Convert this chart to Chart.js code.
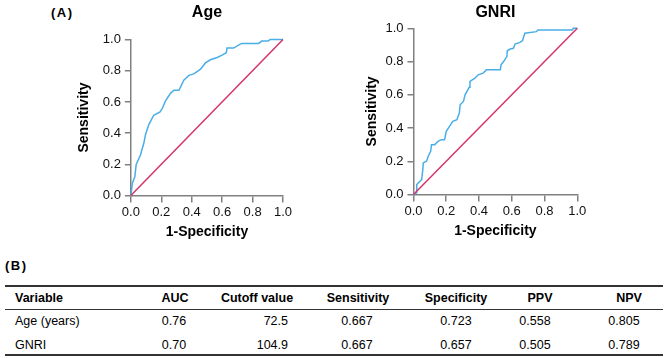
<!DOCTYPE html>
<html>
<head>
<meta charset="utf-8">
<script src="https://cdn.jsdelivr.net/npm/chart.js@4.4.1/dist/chart.umd.min.js"></script>
<style>
  body { margin: 0; background: #fff; width: 669px; height: 358px; overflow: hidden; position: relative;
         font-family: "Liberation Sans", Arial, sans-serif; color: #000; }
  canvas { position: absolute; }
  .lbl { position: absolute; font-weight: bold; font-size: 13px; letter-spacing: 1.5px; }
  .cell { position: absolute; font-size: 12.5px; white-space: nowrap; transform: translateY(-50%); }
  .hline { position: absolute; left: 5px; width: 658px; background: #333; }
</style>
</head>
<body>
<div class="lbl" style="left:51px; top:5px;">(A)</div>
<canvas id="ageChart" width="295" height="241" style="left:0; top:0;"></canvas>
<canvas id="gnriChart" width="290" height="240" style="left:300px; top:0;"></canvas>
<div class="lbl" style="left:5px; top:258px;">(B)</div>
<div id="table"></div>
<script>
// ROC curve for Age: 1-specificity (x) and sensitivity (y)
const ageFpr = [0, 0.005, 0.01, 0.026, 0.035, 0.063, 0.085, 0.096, 0.118, 0.15, 0.19, 0.205, 0.227, 0.26, 0.283,
  0.316, 0.348, 0.381, 0.414, 0.458, 0.49, 0.523, 0.567, 0.6, 0.627, 0.632, 0.675, 0.719, 0.73, 0.84, 0.86, 0.903, 0.915, 1];
const ageTpr = [0, 0.04, 0.08, 0.12, 0.2, 0.26, 0.335, 0.39, 0.455, 0.515, 0.535, 0.555, 0.605, 0.655, 0.675,
  0.675, 0.74, 0.77, 0.78, 0.81, 0.85, 0.87, 0.885, 0.9, 0.915, 0.945, 0.945, 0.97, 0.975, 0.975, 0.99, 0.99, 1, 1];

// ROC curve for GNRI
const gnriFpr = [0, 0.02, 0.02, 0.04, 0.05, 0.057, 0.06, 0.08, 0.09, 0.105, 0.11, 0.13, 0.15, 0.17, 0.19, 0.2,
  0.22, 0.24, 0.265, 0.28, 0.285, 0.305, 0.315, 0.34, 0.345, 0.375, 0.395, 0.425, 0.445, 0.53, 0.535, 0.55,
  0.57, 0.573, 0.59, 0.61, 0.62, 0.65, 0.665, 0.68, 0.75, 0.76, 0.97, 0.975, 1];
const gnriTpr = [0, 0.01, 0.06, 0.08, 0.09, 0.15, 0.19, 0.2, 0.23, 0.26, 0.3, 0.3, 0.32, 0.33, 0.33, 0.38,
  0.41, 0.44, 0.45, 0.49, 0.54, 0.56, 0.6, 0.645, 0.68, 0.7, 0.72, 0.73, 0.75, 0.75, 0.78, 0.8,
  0.83, 0.865, 0.875, 0.88, 0.905, 0.915, 0.925, 0.97, 0.98, 0.99, 0.99, 1, 1];

// reference diagonal
const refLine = [0, 1];
const tickLabels = ["0.0", "0.2", "0.4", "0.6", "0.8", "1.0"];

// table (B)
const tableHeaders = ["Variable", "AUC", "Cutoff value", "Sensitivity", "Specificity", "PPV", "NPV"];
const tableRows = [
  ["Age (years)", "0.76", "72.5", "0.667", "0.723", "0.558", "0.805"],
  ["GNRI", "0.70", "104.9", "0.667", "0.657", "0.505", "0.789"]
];

const FONT = "'Liberation Sans', Arial, sans-serif";
const AXIS_GREY = "#808080";

function toPoints(xs, ys) {
  return xs.map((x, i) => ({ x: x, y: ys[i] }));
}

function rocChart(canvasId, title, fpr, tpr, pad, titlePad, yTitlePad) {
  const ctx = document.getElementById(canvasId).getContext("2d");
  const axis = (label, titlePadding, tickLen, tickPad) => ({
    type: "linear",
    min: 0,
    max: 1,
    ticks: {
      stepSize: 0.2,
      color: "#111",
      padding: tickPad,
      font: { family: FONT, size: 13 },
      callback: (v, i) => tickLabels[i]
    },
    grid: { drawOnChartArea: false, drawTicks: true, tickLength: tickLen, tickColor: AXIS_GREY, lineWidth: 1.5 },
    border: { display: true, color: AXIS_GREY, width: 1.5 },
    title: {
      display: true,
      text: label,
      color: "#000",
      padding: titlePadding,
      font: { family: FONT, size: 14, weight: "bold" }
    }
  });
  return new Chart(ctx, {
    type: "scatter",
    data: {
      datasets: [
        {
          data: toPoints(refLine, refLine),
          showLine: true,
          borderColor: "#d6336c",
          borderWidth: 1.5,
          pointRadius: 0,
          clip: 4
        },
        {
          data: toPoints(fpr, tpr),
          showLine: true,
          borderColor: "#4aaee6",
          borderWidth: 1.5,
          pointRadius: 0,
          clip: 4
        }
      ]
    },
    options: {
      responsive: false,
      animation: false,
      layout: { padding: pad },
      scales: {
        x: axis("1-Specificity", { top: 1.5, bottom: 0 }, 7, 2),
        y: axis("Sensitivity", yTitlePad, 6, 4)
      },
      plugins: {
        legend: { display: false },
        tooltip: { enabled: false },
        title: {
          display: true,
          text: title,
          fullSize: false,
          color: "#000",
          padding: titlePad,
          font: { family: FONT, size: 16, weight: "bold" }
        }
      }
    }
  });
}

rocChart("ageChart", "Age", ageFpr, ageTpr,
  { left: 76, right: 12, top: 0, bottom: 0.5 }, { top: 3, bottom: 17.3 }, { top: 0, bottom: 6 });
rocChart("gnriChart", "GNRI", gnriFpr, gnriTpr,
  { left: 63.6, right: 12.7, top: 0, bottom: 0.6 }, { top: 3, bottom: 6.1 }, { top: 0, bottom: 1 });

// build the table as text
const table = document.getElementById("table");
const headerX = [15, 175, 257, 358, 456, 540, 629];
const valueX = [15, 174, 288, 357, 456, 535, 624];
const align = ["left", "center", "right", "center", "center", "center", "center"];
const rowY = [298, 321, 345];
function addCell(text, x, y, al, bold) {
  const d = document.createElement("div");
  d.className = "cell";
  d.textContent = text;
  d.style.top = y + "px";
  if (bold) d.style.fontWeight = "bold";
  if (al === "left") d.style.left = x + "px";
  else if (al === "right") { d.style.right = (669 - x) + "px"; }
  else { d.style.left = x + "px"; d.style.transform = "translate(-50%, -50%)"; }
  table.appendChild(d);
}
tableHeaders.forEach((h, i) => addCell(h, headerX[i], rowY[0], i === 0 ? "left" : "center", true));
tableRows.forEach((row, r) => {
  row.forEach((v, i) => addCell(v, valueX[i], rowY[r + 1], align[i], false));
});
[[285, 1.5], [309, 1], [354, 1.5]].forEach(([y, h]) => {
  const l = document.createElement("div");
  l.className = "hline";
  l.style.top = y + "px";
  l.style.height = h + "px";
  table.appendChild(l);
});
</script>
</body>
</html>
